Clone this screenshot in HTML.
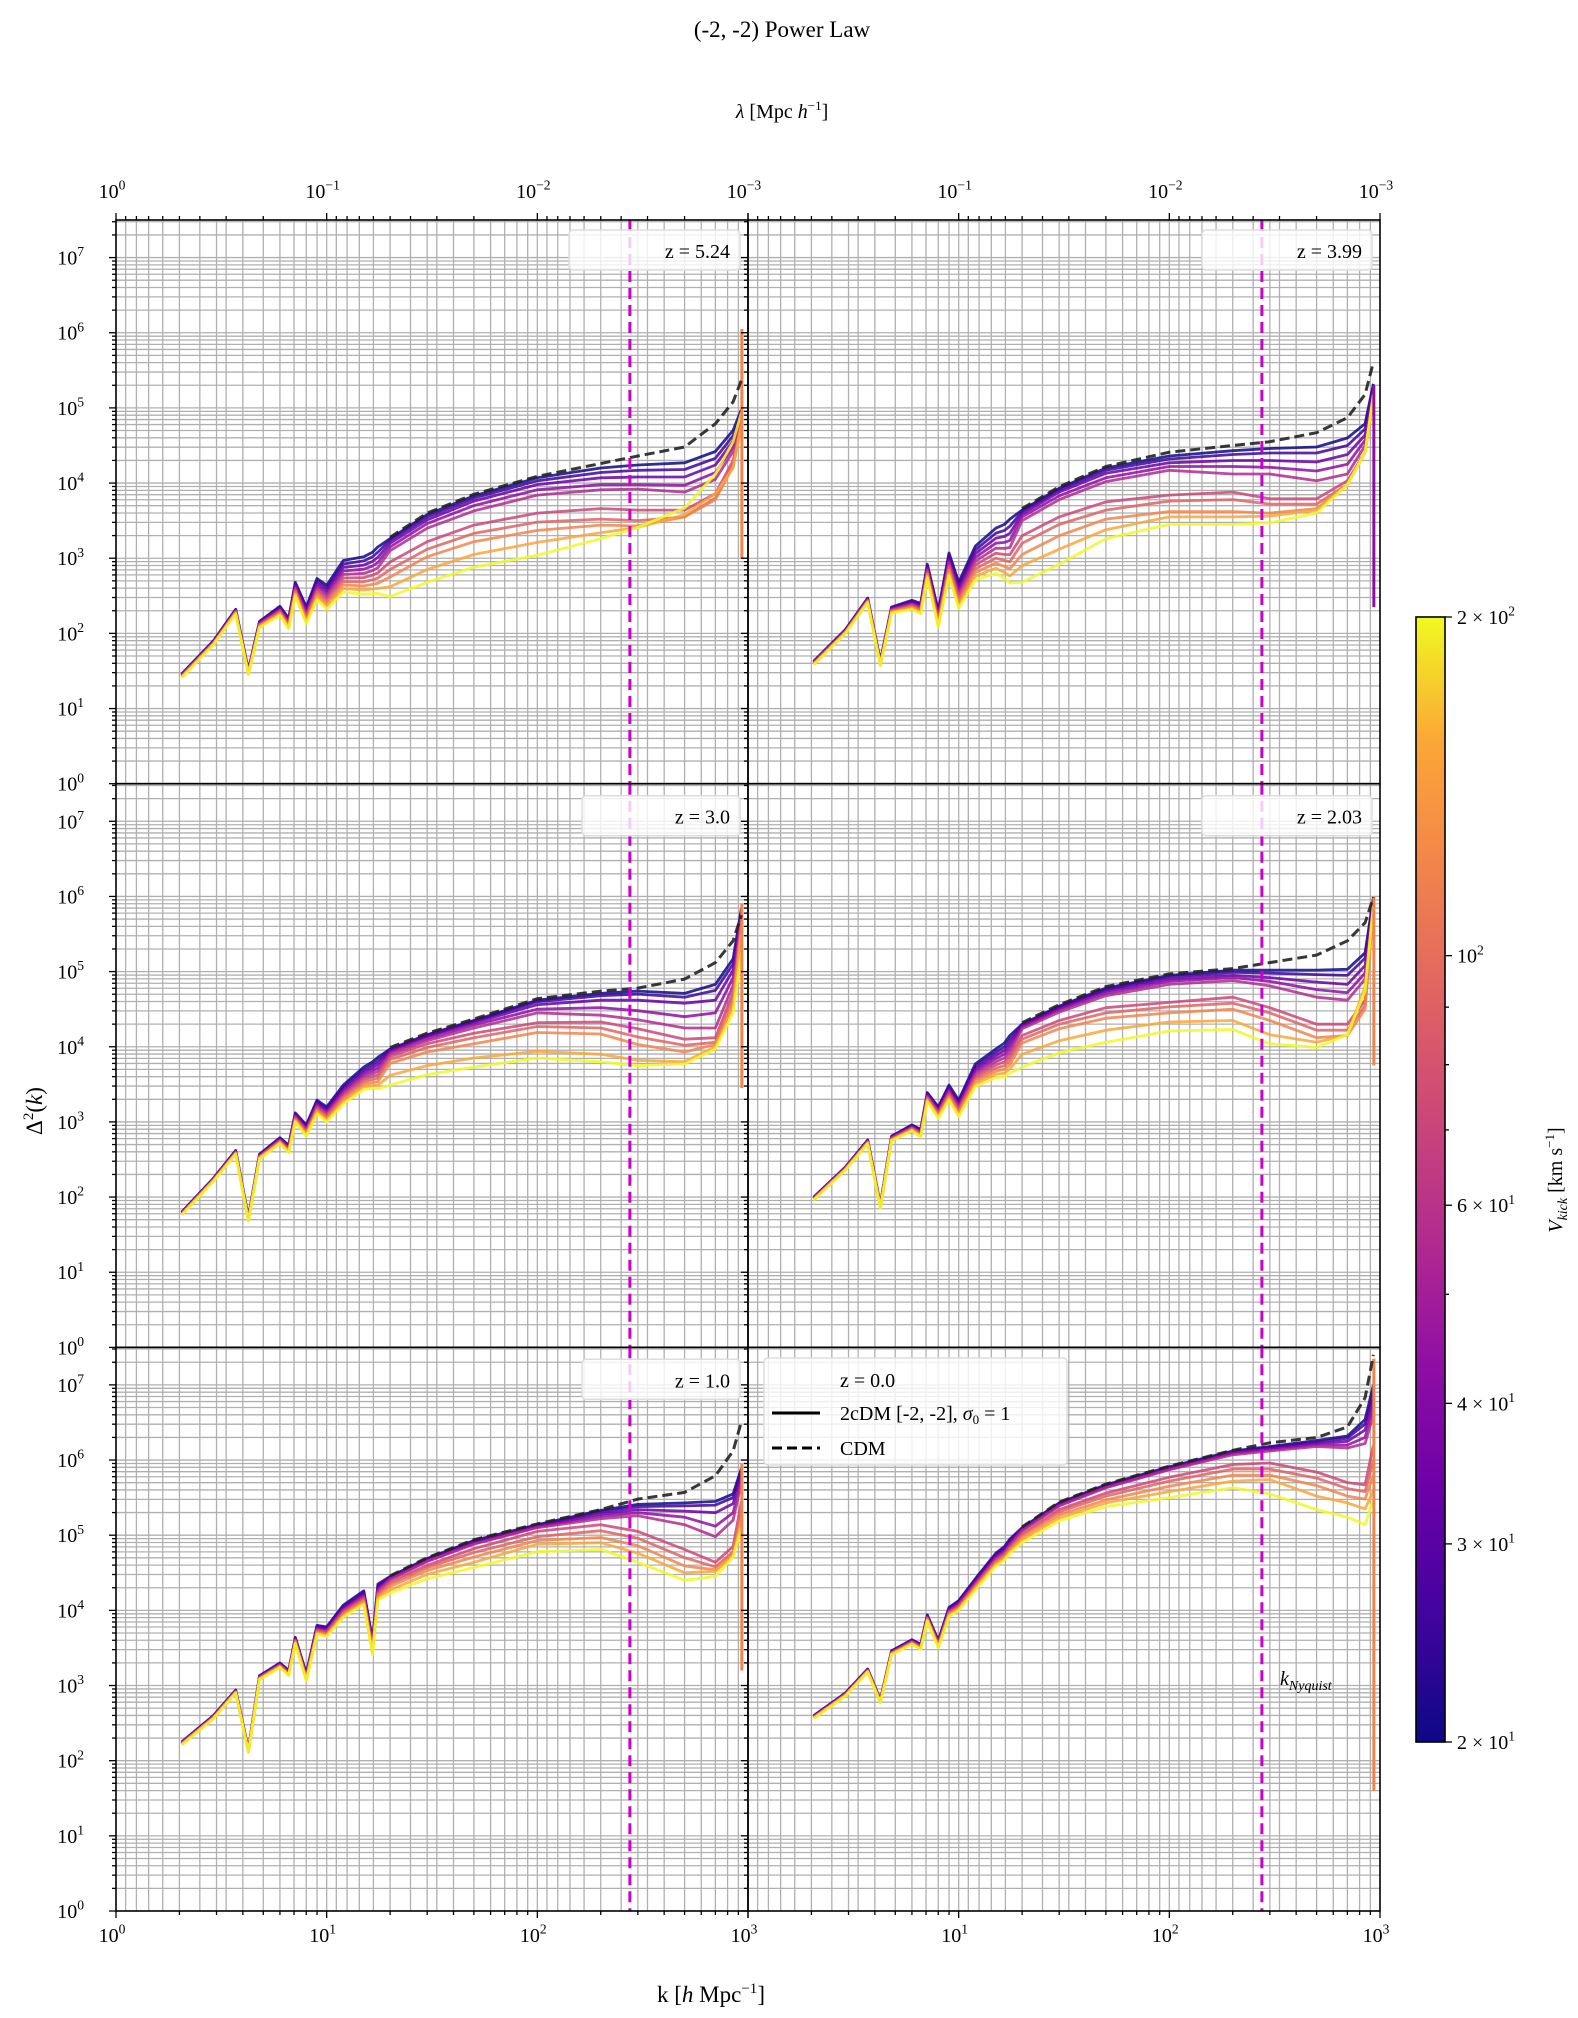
<!DOCTYPE html>
<html><head><meta charset="utf-8"><style>
html,body{margin:0;padding:0;background:#fff}
svg{display:block;font-family:"Liberation Serif",serif}
</style></head><body>
<svg id="fig" width="1578" height="2018" viewBox="0 0 1578 2018" xmlns="http://www.w3.org/2000/svg">
<defs>
<linearGradient id="plasma" x1="0" y1="1" x2="0" y2="0">
<stop offset="0" stop-color="#0d0887"/><stop offset="0.111" stop-color="#41049d"/><stop offset="0.222" stop-color="#6a00a8"/><stop offset="0.333" stop-color="#8f0da4"/><stop offset="0.444" stop-color="#b12a90"/><stop offset="0.556" stop-color="#cc4778"/><stop offset="0.667" stop-color="#e16462"/><stop offset="0.778" stop-color="#f2844b"/><stop offset="0.889" stop-color="#fca636"/><stop offset="1" stop-color="#f0f921"/>
</linearGradient>
</defs>
<text x="782" y="37" font-size="23" text-anchor="middle">(-2, -2) Power Law</text>
<text x="782" y="118" font-size="20" text-anchor="middle"><tspan font-style="italic">λ</tspan> [Mpc <tspan font-style="italic">h</tspan><tspan font-size="13" dy="-8">−1</tspan><tspan dy="8">]</tspan></text>
<text x="711" y="2002" font-size="23" text-anchor="middle">k [<tspan font-style="italic">h</tspan> Mpc<tspan font-size="15" dy="-9">−1</tspan><tspan dy="9">]</tspan></text>
<text x="42" y="1111" font-size="23" text-anchor="middle" transform="rotate(-90 42 1111)">Δ<tspan font-size="15" dy="-9">2</tspan><tspan dy="9">(</tspan><tspan font-style="italic">k</tspan>)</text>
<g id="panels"></g>
<g id="cbar"></g>
</svg>
<script>
// ---- data ----
const zLabels = ["z = 5.24","z = 3.99","z = 3.0","z = 2.03","z = 1.0","z = 0.0"];
const vkickRange = [20, 200];
const lowK = [2.05,2.9,3.7,4.25,4.8,6,6.6,7.1,8,9,10,12,15,16.5,17.5];
const hiK = [20,30,50,100,200,300,500,700,850,930];
const kNyquistLine = 275;
const spikeK = 935;
// log10 Δ² at lowK (shared trunk)
const low1 = [1.46,1.9,2.32,1.51,2.16,2.36,2.2,2.68,2.35,2.73,2.64,2.97,3.02,3.08,3.15];
const low2 = [1.63,2.05,2.47,1.63,2.35,2.44,2.40,2.92,2.3,3.07,2.68,3.16,3.40,3.45,3.52];
const low3 = [1.80,2.25,2.62,1.73,2.57,2.79,2.69,3.12,2.96,3.29,3.20,3.49,3.73,3.80,3.86];
const low4 = [2.0,2.4,2.76,1.9,2.81,2.96,2.9,3.39,3.2,3.49,3.29,3.77,3.97,4.05,4.15];
const low5 = [2.25,2.6,2.94,2.15,3.13,3.3,3.2,3.64,3.16,3.8,3.78,4.07,4.26,3.61,4.35];
const low6 = [2.6,2.9,3.22,2.81,3.46,3.61,3.55,3.94,3.6,4.04,4.13,4.42,4.76,4.85,4.95];
// purple-to-yellow spread at lowK
const spread1 = [0.05,0.05,0.06,0.06,0.08,0.12,0.14,0.18,0.22,0.28,0.32,0.42,0.5,0.55,0.62];
const spread2 = [0.05,0.05,0.06,0.06,0.08,0.12,0.14,0.18,0.22,0.3,0.35,0.45,0.6,0.72,0.85];
const spread3 = [0.04,0.04,0.05,0.05,0.06,0.08,0.1,0.12,0.15,0.18,0.2,0.25,0.3,0.35,0.42];
const spread4 = [0.04,0.04,0.05,0.05,0.06,0.08,0.1,0.12,0.15,0.2,0.22,0.3,0.38,0.45,0.5];
const spread5 = [0.04,0.04,0.04,0.04,0.05,0.06,0.07,0.08,0.1,0.12,0.13,0.16,0.18,0.2,0.21];
const spread6 = [0.04,0.04,0.04,0.04,0.05,0.06,0.07,0.08,0.1,0.12,0.13,0.15,0.17,0.18,0.19];
// per-line log10 Δ² at hiK (line 0 = lowest Vkick, line 9 = highest)
const hi1 = [
[3.26,3.58,3.83,4.07,4.20,4.24,4.27,4.42,4.70,4.98],
[3.24,3.55,3.80,4.03,4.14,4.17,4.18,4.33,4.63,4.95],
[3.20,3.51,3.76,3.98,4.07,4.08,4.08,4.24,4.56,4.92],
[3.15,3.46,3.70,3.91,3.98,3.98,3.97,4.14,4.48,4.89],
[3.10,3.40,3.63,3.84,3.91,3.92,3.88,4.05,4.42,4.86],
[2.95,3.22,3.44,3.60,3.66,3.64,3.64,3.86,4.30,4.82],
[2.85,3.12,3.33,3.48,3.52,3.50,3.55,3.80,4.25,4.80],
[2.75,3.02,3.22,3.37,3.44,3.43,3.55,3.78,4.22,4.78],
[2.62,2.85,3.05,3.21,3.34,3.41,3.58,3.86,4.20,4.76],
[2.49,2.68,2.88,3.04,3.26,3.41,3.67,4.12,4.55,4.94]];
const hi2 = [
[3.64,3.93,4.20,4.36,4.43,4.46,4.48,4.60,4.79,5.32],
[3.62,3.91,4.17,4.32,4.38,4.40,4.40,4.50,4.72,5.28],
[3.59,3.88,4.13,4.27,4.30,4.30,4.28,4.38,4.64,5.25],
[3.55,3.83,4.07,4.22,4.22,4.21,4.16,4.25,4.57,5.22],
[3.50,3.78,4.02,4.17,4.12,4.12,4.03,4.12,4.50,5.18],
[3.30,3.55,3.75,3.84,3.88,3.79,3.79,4.03,4.41,5.15],
[3.20,3.45,3.64,3.76,3.78,3.72,3.72,3.98,4.41,5.15],
[3.05,3.30,3.52,3.62,3.62,3.60,3.66,3.98,4.41,5.15],
[2.90,3.12,3.38,3.55,3.55,3.56,3.64,3.98,4.41,5.15],
[2.68,2.92,3.26,3.45,3.45,3.47,3.60,3.98,4.41,5.18]];
const hi3 = [
[3.97,4.16,4.35,4.62,4.71,4.74,4.71,4.83,5.17,5.84],
[3.96,4.15,4.34,4.60,4.68,4.70,4.66,4.75,5.10,5.80],
[3.95,4.14,4.32,4.56,4.62,4.62,4.58,4.62,5.02,5.77],
[3.93,4.11,4.29,4.50,4.52,4.48,4.40,4.45,4.92,5.74],
[3.90,4.08,4.25,4.45,4.42,4.36,4.25,4.25,4.82,5.70],
[3.87,4.04,4.18,4.32,4.33,4.24,4.10,4.12,4.72,5.65],
[3.83,3.99,4.12,4.27,4.25,4.13,4.02,4.06,4.65,5.62],
[3.78,3.93,4.04,4.19,4.17,4.03,3.93,4.03,4.58,5.58],
[3.62,3.75,3.85,3.94,3.90,3.82,3.80,4.00,4.50,5.50],
[3.49,3.63,3.73,3.85,3.80,3.75,3.77,3.97,4.45,5.26]];
const hi4 = [
[4.30,4.54,4.78,4.95,5.02,5.02,5.02,5.03,5.25,5.99],
[4.29,4.53,4.76,4.93,4.99,4.98,4.96,4.95,5.18,5.95],
[4.28,4.51,4.74,4.90,4.95,4.92,4.86,4.83,5.08,5.92],
[4.26,4.49,4.71,4.87,4.92,4.87,4.76,4.72,4.98,5.90],
[4.24,4.46,4.68,4.83,4.88,4.81,4.66,4.62,4.90,5.88],
[4.15,4.35,4.52,4.59,4.66,4.52,4.30,4.30,4.62,5.85],
[4.10,4.30,4.45,4.53,4.58,4.45,4.22,4.22,4.55,5.85],
[4.05,4.24,4.38,4.45,4.50,4.35,4.12,4.15,4.50,5.85],
[3.90,4.08,4.22,4.33,4.35,4.16,4.06,4.16,4.80,5.87],
[3.73,3.92,4.06,4.21,4.23,4.04,3.99,4.16,4.74,5.89]];
const hi5 = [
[4.45,4.69,4.93,5.14,5.33,5.41,5.43,5.45,5.55,5.89],
[4.44,4.68,4.92,5.13,5.31,5.38,5.39,5.40,5.50,5.85],
[4.43,4.67,4.91,5.12,5.28,5.34,5.32,5.30,5.42,5.80],
[4.42,4.66,4.89,5.11,5.25,5.30,5.24,5.12,5.30,5.75],
[4.41,4.65,4.88,5.10,5.22,5.26,5.14,4.98,5.20,5.70],
[4.38,4.60,4.82,5.05,5.14,5.05,4.81,4.64,4.85,5.45],
[4.35,4.57,4.77,4.98,5.06,4.96,4.70,4.58,4.78,5.35],
[4.32,4.53,4.71,4.93,4.97,4.86,4.59,4.54,4.74,5.25],
[4.27,4.48,4.64,4.88,4.90,4.76,4.50,4.52,4.72,5.18],
[4.23,4.42,4.57,4.78,4.81,4.64,4.40,4.45,4.71,5.10]];
const hi6 = [
[5.10,5.43,5.67,5.91,6.12,6.18,6.26,6.32,6.54,7.0],
[5.09,5.42,5.66,5.90,6.11,6.17,6.24,6.29,6.48,6.9],
[5.08,5.41,5.65,5.89,6.10,6.15,6.22,6.25,6.40,6.8],
[5.07,5.40,5.64,5.88,6.09,6.14,6.20,6.20,6.30,6.7],
[5.06,5.39,5.63,5.87,6.07,6.12,6.18,6.16,6.22,6.6],
[5.02,5.34,5.56,5.77,5.94,5.96,5.84,5.70,5.67,6.2],
[5.00,5.31,5.52,5.72,5.88,5.88,5.76,5.62,5.58,6.0],
[4.97,5.27,5.47,5.65,5.80,5.80,5.66,5.52,5.48,5.8],
[4.94,5.23,5.43,5.58,5.72,5.74,5.52,5.43,5.35,5.6],
[4.90,5.19,5.38,5.50,5.63,5.55,5.34,5.24,5.14,5.48]];
const cdm1 = [3.28,3.60,3.85,4.09,4.26,4.36,4.48,4.79,5.08,5.37];
const cdm2 = [3.66,3.95,4.22,4.41,4.50,4.55,4.67,4.87,5.18,5.61];
const cdm3 = [3.99,4.18,4.37,4.64,4.74,4.78,4.90,5.12,5.41,5.75];
const cdm4 = [4.32,4.56,4.80,4.97,5.04,5.12,5.22,5.41,5.65,5.99];
const cdm5 = [4.46,4.70,4.94,5.15,5.34,5.48,5.57,5.79,6.12,6.51];
const cdm6 = [5.11,5.44,5.68,5.92,6.13,6.23,6.30,6.44,6.83,7.4];
// vertical drop at the last k bin: [top, bottom] in log10
const spikeTop = [6.05,5.3,5.9,6.0,5.95,7.35];
const spikeBottom = [3.0,2.35,3.45,3.75,3.2,1.6];
const lows=[low1,low2,low3,low4,low5,low6], spreads=[spread1,spread2,spread3,spread4,spread5,spread6];
const his=[hi1,hi2,hi3,hi4,hi5,hi6], cdms=[cdm1,cdm2,cdm3,cdm4,cdm5,cdm6];
const lineColors=["#0d0887","#41049d","#6a00a8","#8f0da4","#b12a90","#cc4778","#e16462","#f2844b","#fca636","#f0f921"];

// ---- layout ----
const NS="http://www.w3.org/2000/svg";
const colX=[116,748], W=632, rowY=[220,783.7,1347.3], H=563.7, YMAX=7.5;
function mk(tag,attrs,parent){const e=document.createElementNS(NS,tag);for(const a in attrs)e.setAttribute(a,attrs[a]);parent.appendChild(e);return e;}
function sup(parent,x,y,base,exp,anchor,fs){
  const t=mk('text',{x:x,y:y,'font-size':fs,'text-anchor':anchor},parent);
  t.appendChild(document.createTextNode(base));
  const s=mk('tspan',{'font-size':fs*0.68,dy:-fs*0.42},t);s.textContent=exp;
  return t;
}
const root=document.getElementById('panels');
for(let p=0;p<6;p++){
  const r=Math.floor(p/2), c=p%2, x0=colX[c], y0=rowY[r];
  const X=k=>x0+Math.log10(k)/3*W;
  const Y=l=>y0+H-l/YMAX*H;
  const g=mk('g',{},root);
  
  
  const cp='clip'+p;
  const cl=mk('clipPath',{id:cp},g);mk('rect',{x:x0,y:y0,width:W,height:H},cl);
  const grid=mk('g',{stroke:'#b0b0b0','stroke-width':1.3,'clip-path':'url(#'+cp+')'},g);
  
  
  for(let n=0;n<8;n++)for(let m=1;m<10;m++){const l=n+Math.log10(m);if(l<=YMAX)mk('line',{x1:x0,x2:x0+W,y1:Y(l),y2:Y(l)},grid);}
  const xs=new Set();
  for(let n=0;n<3;n++)for(let m=1;m<10;m++){xs.add((m*Math.pow(10,n)).toFixed(4));xs.add((Math.pow(10,n+1)/m).toFixed(4));}
  xs.forEach(v=>{const k=+v;if(k>1&&k<1000)mk('line',{x1:X(k),x2:X(k),y1:y0,y2:y0+H},grid);});
  const lg=mk('g',{'clip-path':'url(#'+cp+')',fill:'none','stroke-linejoin':'round'},g);
  for(let i=0;i<10;i++){
    let pts=[];
    for(let j=0;j<lowK.length;j++)pts.push(X(lowK[j]).toFixed(1)+','+Y(lows[p][j]-spreads[p][j]*i/9).toFixed(1));
    for(let j=0;j<hiK.length;j++)pts.push(X(hiK[j]).toFixed(1)+','+Y(his[p][i][j]).toFixed(1));
    const pl=mk('polyline',{points:pts.join(' '),stroke:lineColors[i],'stroke-width':2.8,'stroke-opacity':0.85},lg);
    
    
  }
  const sp=mk('line',{x1:X(spikeK),x2:X(spikeK),y1:Y(spikeTop[p]),y2:Y(spikeBottom[p]),stroke:p==1?'#8f0da4':'#f2844b','stroke-width':3},lg);
  
  
  const cpts=hiK.map((k,j)=>X(k).toFixed(1)+','+Y(cdms[p][j]).toFixed(1)).join(' ');
  const cd=mk('polyline',{points:cpts,stroke:'#222','stroke-width':3,'stroke-dasharray':'10,5','stroke-opacity':0.9},lg);
  
  
  const vl=mk('line',{x1:X(kNyquistLine),x2:X(kNyquistLine),y1:y0,y2:y0+H,stroke:'#cc00cc','stroke-width':3,'stroke-dasharray':'11,6'},g);
  
  
  // legend
  if(p<5){
    const lx=x0+(c==0&&r==0?453:(c==1?454:466)), ly=y0+(r==0?10:12);
    const lb=mk('g',{},g);
    
    
    mk('rect',{x:lx,y:ly,width:x0+W-8-lx,height:40,rx:4,fill:'#fff','fill-opacity':0.8,stroke:'#ddd','stroke-width':1.5},lb);
    const t=mk('text',{x:x0+W-18,y:ly+28,'font-size':20,'text-anchor':'end'},lb);t.textContent=zLabels[p];
  } else {
    const lb=mk('g',{},g);
    
    
    mk('rect',{x:764,y:1358,width:303,height:107,rx:4,fill:'#fff','fill-opacity':0.8,stroke:'#ddd','stroke-width':1.5},lb);
    const t0=mk('text',{x:840,y:1352+35,'font-size':20},lb);t0.textContent=zLabels[p];
    mk('line',{x1:772,x2:820,y1:1413,y2:1413,stroke:'#000','stroke-width':3},lb);
    const t1=mk('text',{x:840,y:1420,'font-size':20},lb);
    t1.appendChild(document.createTextNode('2cDM [-2, -2], '));
    const ts=mk('tspan',{'font-style':'italic'},t1);ts.textContent='σ';
    const ts2=mk('tspan',{'font-size':13,dy:4},t1);ts2.textContent='0';
    const ts3=mk('tspan',{dy:-4},t1);ts3.textContent=' = 1';
    mk('line',{x1:772,x2:820,y1:1448,y2:1448,stroke:'#000','stroke-width':3,'stroke-dasharray':'10,5'},lb);
    const t2=mk('text',{x:840,y:1455,'font-size':20},lb);t2.textContent='CDM';
    const kn=mk('text',{x:1280,y:1685,'font-size':20,'font-style':'italic'},g);
    
    
    kn.textContent='k';
    const kns=mk('tspan',{'font-size':14,dy:5},kn);kns.textContent='Nyquist';
  }
  // frame + ticks
  mk('rect',{x:x0,y:y0,width:W,height:H,fill:'none',stroke:'#000','stroke-width':1.6},g);
  const tk=mk('g',{stroke:'#000','stroke-width':1.3},g);
  for(let n=0;n<8;n++)for(let m=1;m<10;m++){const l=n+Math.log10(m);if(l<=YMAX){const len=m==1?7:4;mk('line',{x1:x0-len,x2:x0,y1:Y(l),y2:Y(l)},tk);}}
  const yl=mk('g',{},g);
  
  
  if(c==0)for(let n=0;n<=7;n++)sup(yl,x0-32,Y(n)+7,'10',String(n),'end',20);
  if(r==2){
    for(let n=0;n<3;n++)for(let m=1;m<10;m++){const k=m*Math.pow(10,n);const len=m==1?7:4;mk('line',{x1:X(k),x2:X(k),y1:y0+H,y2:y0+H+len},tk);}
    mk('line',{x1:X(1000),x2:X(1000),y1:y0+H,y2:y0+H+7},tk);
    const xl=mk('g',{},g);
    
    
    for(let n=(c==1?1:0);n<=3;n++)sup(xl,X(Math.pow(10,n))-4,y0+H+31,'10',String(n),'middle',20);
  }
  if(r==0){
    for(let n=0;n<3;n++)for(let m=1;m<10;m++){const k=Math.pow(10,n+1)/m;const len=m==1?7:4;mk('line',{x1:X(k),x2:X(k),y1:y0,y2:y0-len},tk);}
    mk('line',{x1:X(1),x2:X(1),y1:y0,y2:y0-7},tk);
    const tl=mk('g',{},g);
    
    
    for(let n=(c==1?1:0);n<=3;n++)sup(tl,X(Math.pow(10,n))-4,y0-22,'10',n==0?'0':'−'+n,'middle',20);
  }
}
// colorbar
const cb=document.getElementById('cbar');
const cbX=1416,cbW=29,cbTop=617,cbBot=1742;
const cbY=v=>cbBot-(Math.log10(v)-Math.log10(vkickRange[0]))/(Math.log10(vkickRange[1])-Math.log10(vkickRange[0]))*(cbBot-cbTop);
mk('rect',{x:cbX,y:cbTop,width:cbW,height:cbBot-cbTop,fill:'url(#plasma)',stroke:'#000','stroke-width':1.6},cb);
const cbTicks=[20,30,40,50,60,70,80,90,100,200];
const cbLabels={20:['2 × 10','1'],30:['3 × 10','1'],40:['4 × 10','1'],60:['6 × 10','1'],100:['10','2'],200:['2 × 10','2']};
cbTicks.forEach(v=>{
  const y=cbY(v);const major=!!cbLabels[v];
  mk('line',{x1:cbX+cbW,x2:cbX+cbW+(major?7:4),y1:y,y2:y,stroke:'#000','stroke-width':1.3},cb);
  if(major){sup(cb,cbX+cbW+12,y+7,cbLabels[v][0],cbLabels[v][1],'start',20);}
});
const cbt=mk('text',{x:1562,y:1180,'font-size':20,'text-anchor':'middle',transform:'rotate(-90 1562 1180)'},cb);


const v1=mk('tspan',{'font-style':'italic'},cbt);v1.textContent='V';
const v2=mk('tspan',{'font-size':14,dy:5,'font-style':'italic'},cbt);v2.textContent='kick';
const v3=mk('tspan',{dy:-5},cbt);v3.textContent=' [km s';
const v4=mk('tspan',{'font-size':13,dy:-8},cbt);v4.textContent='−1';
const v5=mk('tspan',{dy:8},cbt);v5.textContent=']';
</script>
</body></html>
